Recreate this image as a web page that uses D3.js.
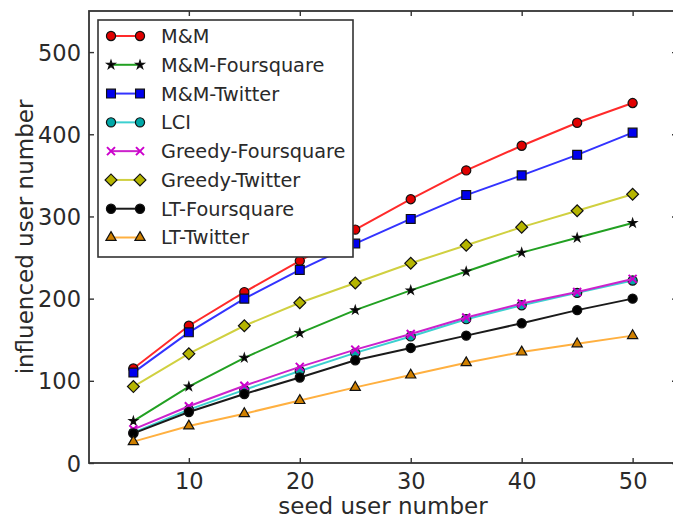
<!DOCTYPE html>
<html>
<head>
<meta charset="utf-8">
<script src="https://cdn.jsdelivr.net/npm/d3@7"></script>
<style>
  html, body { margin: 0; padding: 0; background: #fff; }
  svg { display: block; font-family: "DejaVu Sans", sans-serif; }
</style>
</head>
<body>
<svg id="chart" width="673" height="522"></svg>
<script>
// Seed sizes on the x axis
const seeds = [5, 10, 15, 20, 25, 30, 35, 40, 45, 50];

// Influenced users per method
const mm            = [115, 167, 208, 246, 284, 321, 356, 386, 414, 438];
const mmFoursquare  = [51, 93, 128, 158, 186, 210, 233, 256, 274, 292];
const mmTwitter     = [110, 159, 200, 235, 267, 297, 326, 350, 375, 402];
const lci           = [37, 65, 89, 112, 134, 154, 175, 192, 207, 222];
const greedyFour    = [41, 69, 94, 117, 138, 157, 177, 194, 208, 224];
const greedyTwitter = [93, 133, 167, 195, 219, 243, 265, 287, 307, 327];
const ltFoursquare  = [36, 62, 84, 104, 125, 140, 155, 170, 186, 200];
const ltTwitter     = [26, 45, 60, 76, 92, 107, 122, 135, 145, 155];

const xTicks = [10, 20, 30, 40, 50];
const yTicks = [0, 100, 200, 300, 400, 500];

const series = [
  { name: "M&M",               values: mm,            color: "#ff2a2a", marker: "circle",   fill: "#e00000" },
  { name: "M&M-Foursquare",    values: mmFoursquare,  color: "#22a022", marker: "star",     fill: "#000000" },
  { name: "M&M-Twitter",       values: mmTwitter,     color: "#3333ff", marker: "square",   fill: "#0000ee" },
  { name: "LCI",               values: lci,           color: "#3cd0d0", marker: "circle",   fill: "#00a8a8" },
  { name: "Greedy-Foursquare", values: greedyFour,    color: "#cc22cc", marker: "x",        fill: "#cc00cc" },
  { name: "Greedy-Twitter",    values: greedyTwitter, color: "#d0d040", marker: "diamond",  fill: "#b5b500" },
  { name: "LT-Foursquare",     values: ltFoursquare,  color: "#1a1a1a", marker: "circle",   fill: "#000000" },
  { name: "LT-Twitter",        values: ltTwitter,     color: "#ffb040", marker: "triangle", fill: "#d08000" }
];

const svg = d3.select("#chart");
const x = d3.scaleLinear().domain([1, 54]).range([89, 677]);
const y = d3.scaleLinear().domain([0, 550]).range([463, 11]);

const tickFont = "22.5px";
const axisColor = "#333";

// Marker path generator
function markerPath(kind) {
  switch (kind) {
    case "circle":   return d3.symbol(d3.symbolCircle, 66)();
    case "square":   return d3.symbol(d3.symbolSquare, 78)();
    case "diamond":  return d3.symbol(d3.symbolSquare, 70)();
    case "triangle": return d3.symbol(d3.symbolTriangle, 45)();
    case "star":     return d3.symbol(d3.symbolStar, 22)();
    case "x":        return "M-4,-4L4,4M-4,4L4,-4";
  }
}
function drawMarker(g, s, cx, cy) {
  const p = g.append("path")
    .attr("d", markerPath(s.marker))
    .attr("transform", `translate(${cx},${cy})` + (s.marker === "diamond" ? " rotate(45)" : ""));
  if (s.marker === "x") {
    p.attr("fill", "none").attr("stroke", s.fill).attr("stroke-width", 2);
  } else {
    p.attr("fill", s.fill).attr("stroke", "#111").attr("stroke-width", 1.2);
  }
}

// Series lines and markers
const plot = svg.append("g");
const line = d3.line().x((d, i) => x(seeds[i])).y(d => y(d));
series.forEach(s => {
  const g = plot.append("g");
  g.append("path")
    .datum(s.values)
    .attr("d", line)
    .attr("fill", "none")
    .attr("stroke", s.color)
    .attr("stroke-width", 2);
  s.values.forEach((v, i) => drawMarker(g, s, x(seeds[i]), y(v)));
});

// Frame with inward ticks on all four sides
const axes = svg.append("g");
const axisB = d3.axisBottom(x).tickValues(xTicks).tickSize(-5).tickPadding(10).tickFormat(d3.format("d"));
const axisT = d3.axisTop(x).tickValues(xTicks).tickSize(-5).tickFormat("");
const axisL = d3.axisLeft(y).tickValues(yTicks).tickSize(-5).tickPadding(8).tickFormat(d3.format("d"));
const axisR = d3.axisRight(y).tickValues(yTicks).tickSize(-5).tickFormat("");

function styleAxis(g) {
  g.select(".domain").remove();
  g.selectAll(".tick line").attr("stroke", axisColor).attr("stroke-width", 1.4);
  g.selectAll(".tick text").attr("fill", "#2a2a2a").style("font-size", tickFont)
    .style("font-family", "'DejaVu Sans', sans-serif");
}
axes.append("g").attr("transform", `translate(0,${y(0)})`).call(axisB).call(styleAxis);
axes.append("g").attr("transform", `translate(0,${y(550)})`).call(axisT).call(styleAxis);
axes.append("g").attr("transform", `translate(${x(1)},0)`).call(axisL).call(styleAxis)
  .selectAll(".tick text").attr("dy", "0.36em");
axes.append("g").attr("transform", `translate(${x(54)},0)`).call(axisR).call(styleAxis);

axes.append("rect")
  .attr("x", x(1)).attr("y", y(550))
  .attr("width", x(54) - x(1)).attr("height", y(0) - y(550))
  .attr("fill", "none").attr("stroke", axisColor).attr("stroke-width", 1.8);

// Axis titles
svg.append("text")
  .attr("x", (x(1) + x(54)) / 2).attr("y", 514)
  .attr("text-anchor", "middle")
  .attr("fill", "#2a2a2a")
  .style("font-size", "23px")
  .text("seed user number");

svg.append("text")
  .attr("transform", `translate(33,${(y(0) + y(550)) / 2}) rotate(-90)`)
  .attr("text-anchor", "middle")
  .attr("fill", "#2a2a2a")
  .style("font-size", "23px")
  .text("influenced user number");

// Legend
const legend = svg.append("g");
legend.append("rect")
  .attr("x", 98).attr("y", 20).attr("width", 255).attr("height", 237)
  .attr("fill", "#fff").attr("stroke", "#333").attr("stroke-width", 1.6);
const rowY = d3.scaleLinear().domain([0, 7]).range([36, 237.5]);
series.forEach((s, i) => {
  const g = legend.append("g");
  const yy = rowY(i);
  g.append("line")
    .attr("x1", 111).attr("x2", 140).attr("y1", yy).attr("y2", yy)
    .attr("stroke", s.color).attr("stroke-width", 2);
  drawMarker(g, s, 111, yy);
  drawMarker(g, s, 140, yy);
  g.append("text")
    .attr("x", 161).attr("y", yy).attr("dy", "0.36em")
    .attr("fill", "#2a2a2a")
    .style("font-size", "19.3px")
    .text(s.name);
});
</script>
</body>
</html>
